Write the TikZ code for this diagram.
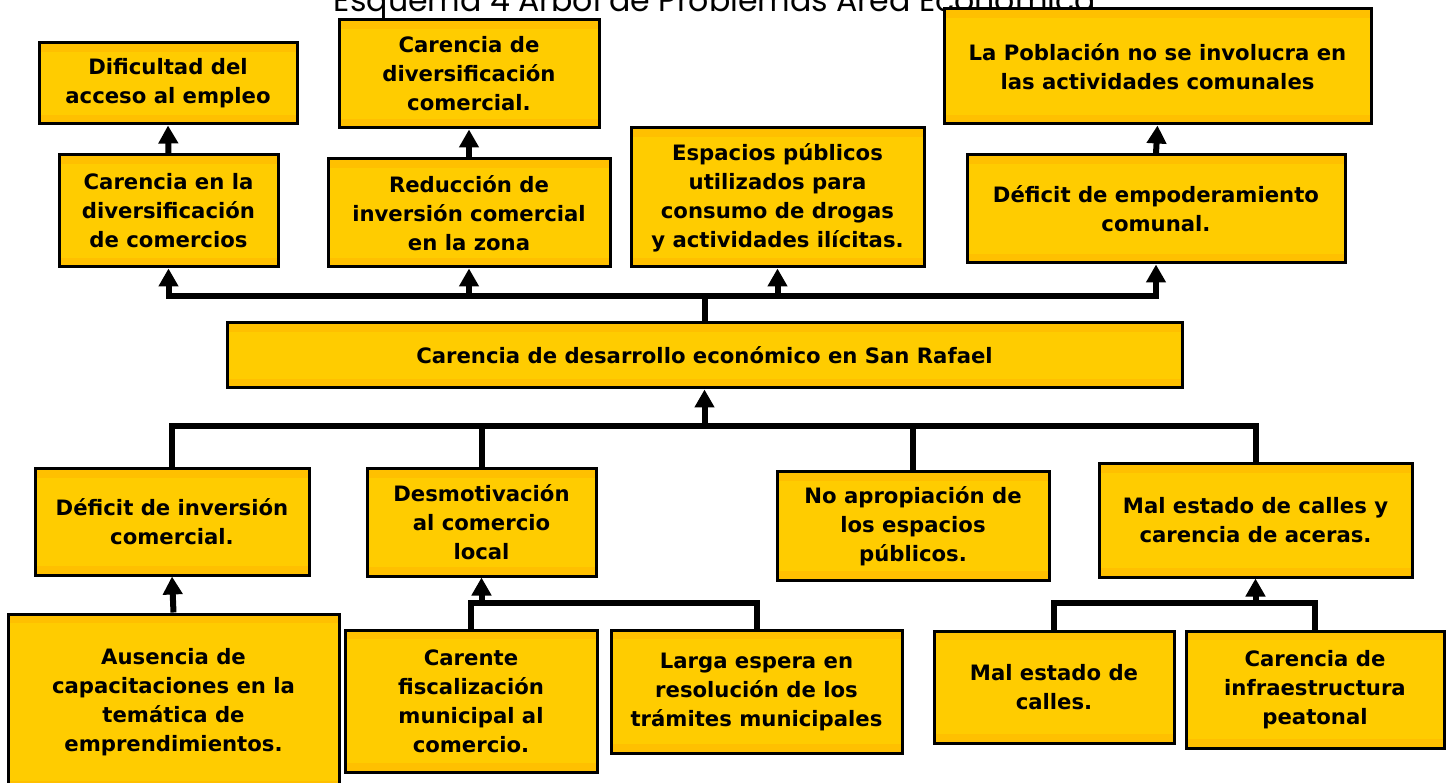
\documentclass[tikz,border=0pt]{standalone}
\usepackage{fontspec}
\setmainfont{DejaVu Sans}
\newfontfamily\titlefont{Poppins}
\usetikzlibrary{arrows.meta}
\definecolor{amarillo}{RGB}{255,204,0}
\definecolor{franja}{RGB}{255,192,0}
\tikzset{
  caja/.style={draw=black, line width=3pt, fill=amarillo, align=center, inner sep=0pt,
    font=\bfseries\fontsize{21.2}{29}\selectfont,
    path picture={
      \fill[franja] (path picture bounding box.north west) rectangle ([yshift=-9pt]path picture bounding box.north east);
      \fill[franja] (path picture bounding box.south west) rectangle ([yshift=9pt]path picture bounding box.south east);
    }},
  tam/.style 2 args={minimum width=#1pt, minimum height=#2pt},
  enlace/.style={line width=6pt},
  flecha/.style={enlace, -{Triangle[width=19pt,length=18pt]}},
}
\begin{document}
\begin{tikzpicture}[x=1pt,y=-1pt]
  \useasboundingbox (0,0) rectangle (1452,783);

  \node[anchor=base, font=\titlefont\fontsize{31.6}{36}\selectfont] (titulo) at (715,12) {Esquema 4 Árbol de Problemas Área Económica};

  % efectos
  \node[caja, tam={258}{81}] (a1) at (168,83.5) {Dificultad del\\acceso al empleo};
  \node[caja, tam={219}{112}] (a2) at (168.5,211) {Carencia en la\\diversificación\\de comercios};
  \node[caja, tam={260}{108}] (b1) at (469,74) {Carencia de\\diversificación\\comercial.};
  \node[caja, tam={282}{108}] (b2) at (469,213) {Reducción de\\inversión comercial\\en la zona};
  \node[caja, tam={293}{139}] (c) at (777.5,197.5) {Espacios públicos\\utilizados para\\consumo de drogas\\y actividades ilícitas.};
  \node[caja, tam={427}{115}] (d1) at (1157.5,66.5) {La Población no se involucra en\\las actividades comunales};
  \node[caja, tam={378}{108}] (d2) at (1156,209) {Déficit de empoderamiento\\comunal.};

  % problema central
  \node[caja, tam={955}{65}] (raiz) at (704.5,355.5) {Carencia de desarrollo económico en San Rafael};

  % causas
  \node[caja, tam={274}{106}] (e1) at (172,522) {Déficit de inversión\\comercial.};
  \node[caja, tam={331}{176}] (e2) at (173.5,702) {Ausencia de\\capacitaciones en la\\temática de\\emprendimientos.};
  \node[caja, tam={229}{107}] (f1) at (481.5,522.5) {Desmotivación\\al comercio\\local};
  \node[caja, tam={252}{142}] (f2) at (471,701) {Carente\\fiscalización\\municipal al\\comercio.};
  \node[caja, tam={291}{123}] (f3) at (756.5,691.5) {Larga espera en\\resolución de los\\trámites municipales};
  \node[caja, tam={272}{108}] (g) at (913,526) {No apropiación de\\los espacios\\públicos.};
  \node[caja, tam={313}{113}] (h1) at (1255.5,520.5) {Mal estado de calles y\\carencia de aceras.};
  \node[caja, tam={240}{112}] (h2) at (1054,687) {Mal estado de\\calles.};
  \node[caja, tam={258}{117}] (h3) at (1315,689.5) {Carencia de\\infraestructura\\peatonal};

  \coordinate (arriba) at (704.5,296);
  \coordinate (abajo) at (704.5,426);
  \coordinate (fjunta) at (481.5,603);
  \coordinate (hjunta) at (1255.5,603);

  % hacia los efectos
  \draw[enlace] (raiz.north) -- (arriba);
  \draw[flecha] (arriba) -| (a2.south);
  \draw[flecha] (arriba) -| (b2.south);
  \draw[flecha] (arriba) -| (c.south);
  \draw[flecha] (arriba) -| (d2.south);
  \draw[flecha] (a2.north) -- (a1.south);
  \draw[flecha] (b2.north) -- (b1.south);
  \draw[flecha] (d2.north) -- (d1.south);

  % desde las causas
  \draw[flecha] (abajo) -- (raiz.south);
  \draw[enlace] (abajo) -| (e1.north);
  \draw[enlace] (abajo) -| (f1.north);
  \draw[enlace] (abajo) -| (g.north);
  \draw[enlace] (abajo) -| (h1.north);
  \draw[flecha] (e2.north) -- (e1.south);
  \draw[enlace] (f2.north) |- (fjunta) -| (f3.north);
  \draw[flecha] (fjunta) -- (f1.south);
  \draw[enlace] (h2.north) |- (hjunta) -| (h3.north);
  \draw[flecha] (hjunta) -- (h1.south);
\end{tikzpicture}
\end{document}
